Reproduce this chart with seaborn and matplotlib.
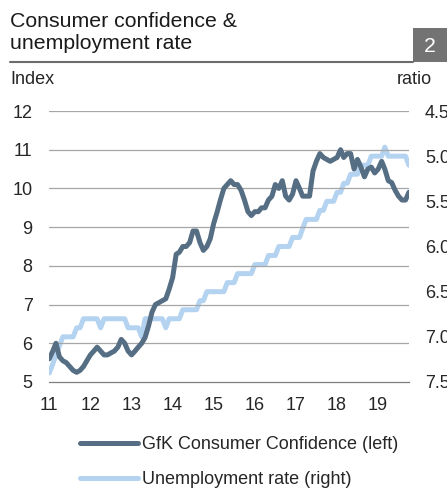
import numpy as np
import pandas as pd
import seaborn as sns
import matplotlib.pyplot as plt
from matplotlib.lines import Line2D
from matplotlib.patches import Rectangle
from matplotlib.ticker import FixedLocator, FuncFormatter
import matplotlib.dates as mdates

# monthly data, Jan 2011 - Oct 2019
gfk = [5.6, 5.8, 6.0, 5.65, 5.55, 5.5, 5.4, 5.3, 5.25, 5.3, 5.4, 5.55,
       5.7, 5.8, 5.9, 5.8, 5.7, 5.7, 5.75, 5.8, 5.9, 6.1, 6.0, 5.8,
       5.7, 5.8, 5.9, 6.0, 6.15, 6.45, 6.8, 7.0, 7.05, 7.1, 7.15, 7.4,
       7.7, 8.3, 8.35, 8.5, 8.5, 8.6, 8.9, 8.9, 8.6, 8.4, 8.5, 8.7,
       9.1, 9.4, 9.7, 10.0, 10.1, 10.2, 10.1, 10.1, 9.95, 9.7, 9.4, 9.3,
       9.4, 9.4, 9.5, 9.5, 9.7, 9.8, 10.1, 10.0, 10.2, 9.8, 9.7, 9.85,
       10.2, 10.0, 9.8, 9.8, 9.8, 10.45, 10.7, 10.9, 10.8, 10.75, 10.7, 10.75,
       10.8, 11.0, 10.8, 10.9, 10.9, 10.5, 10.75, 10.55, 10.3, 10.5, 10.55, 10.4,
       10.5, 10.7, 10.5, 10.2, 10.15, 9.95, 9.8, 9.7, 9.7, 9.9]
unemp = [7.4, 7.3, 7.2, 7.1, 7.0, 7.0, 7.0, 7.0, 6.9, 6.9, 6.8, 6.8,
         6.8, 6.8, 6.8, 6.9, 6.8, 6.8, 6.8, 6.8, 6.8, 6.8, 6.8, 6.9,
         6.9, 6.9, 6.9, 7.0, 6.8, 6.8, 6.8, 6.8, 6.8, 6.8, 6.9, 6.8,
         6.8, 6.8, 6.8, 6.7, 6.7, 6.7, 6.7, 6.7, 6.6, 6.6, 6.5, 6.5,
         6.5, 6.5, 6.5, 6.5, 6.4, 6.4, 6.4, 6.3, 6.3, 6.3, 6.3, 6.3,
         6.2, 6.2, 6.2, 6.2, 6.1, 6.1, 6.1, 6.0, 6.0, 6.0, 6.0, 5.9,
         5.9, 5.9, 5.8, 5.7, 5.7, 5.7, 5.7, 5.6, 5.6, 5.5, 5.5, 5.5,
         5.4, 5.4, 5.3, 5.3, 5.2, 5.2, 5.2, 5.1, 5.1, 5.1, 5.0, 5.0,
         5.0, 5.0, 4.9, 5.0, 5.0, 5.0, 5.0, 5.0, 5.0, 5.1]
dates = pd.date_range("2011-01-01", periods=len(gfk), freq="MS")
df = pd.DataFrame({"date": dates, "gfk": gfk, "unemp": unemp})

left_ticks = [5, 6, 7, 8, 9, 10, 11, 12]
right_ticks = [4.5, 5.0, 5.5, 6.0, 6.5, 7.0, 7.5]
year_ticks = pd.date_range("2011-01-01", "2019-01-01", freq="YS")

dark = "#566e84"
light = "#b4d3f1"

sns.set_style("white")
plt.rcParams["font.family"] = ["Liberation Sans", "DejaVu Sans"]

W, H = 447, 488
fig = plt.figure(figsize=(W / 100, H / 100), dpi=100)
ax = fig.add_axes([49.3 / W, (H - 382) / H, 359.6 / W, 271 / H])
ax2 = ax.twinx()

sns.lineplot(data=df, x="date", y="gfk", ax=ax, color=dark, linewidth=3.6,
             label="GfK Consumer Confidence (left)", legend=False)
sns.lineplot(data=df, x="date", y="unemp", ax=ax2, color=light, linewidth=3.6,
             label="Unemployment rate (right)", legend=False)
ax.set_zorder(ax2.get_zorder() + 1)
ax.patch.set_visible(False)

ax.set_xlim(pd.Timestamp("2011-01-01"), pd.Timestamp("2019-10-01"))
ax.set_ylim(5, 12)
ax2.set_ylim(7.5, 4.5)
ax.yaxis.set_major_locator(FixedLocator(left_ticks))
ax2.yaxis.set_major_locator(FixedLocator(right_ticks))
ax2.yaxis.set_major_formatter(FuncFormatter(lambda v, p: f"{v:.1f}"))
ax.xaxis.set_major_locator(FixedLocator(mdates.date2num(year_ticks)))
ax.xaxis.set_major_formatter(mdates.DateFormatter("%y"))

ax.grid(False)
ax2.grid(False)
for v in left_ticks[1:]:
    ax.axhline(v, color="#a6a6a6", linewidth=0.9, zorder=0)

ax.set_xlabel("")
ax.set_ylabel("")
ax2.set_ylabel("")
for a in (ax, ax2):
    for s in a.spines.values():
        s.set_visible(False)
ax.spines["bottom"].set_visible(True)
ax.spines["bottom"].set_color("#7f7f7f")
ax.spines["bottom"].set_linewidth(0.9)

ax.tick_params(axis="y", length=0, pad=12, labelsize=13)
ax2.tick_params(axis="y", length=0, pad=11.5, labelsize=13)
ax.tick_params(axis="x", length=0, pad=11, labelsize=13)

# header
fig.text(10 / W, 1 - 27 / H, "Consumer confidence &", fontsize=15.3,
         va="baseline", ha="left", color="#1a1a1a")
fig.text(10 / W, 1 - 49 / H, "unemployment rate", fontsize=15.3,
         va="baseline", ha="left", color="#1a1a1a")
fig.add_artist(Line2D([10 / W, 413 / W], [1 - 61.5 / H, 1 - 61.5 / H],
                      color="#6d6d6d", linewidth=1.5))
fig.add_artist(Rectangle((413 / W, 1 - 62 / H), 40 / W, 34 / H,
                         color="#737373", linewidth=0))
fig.text(430 / W, 1 - 52 / H, "2", fontsize=15.3, color="white",
         ha="center", va="baseline")
fig.text(10 / W, 1 - 84 / H, "Index", fontsize=13, va="baseline", ha="left")
fig.text(432 / W, 1 - 84 / H, "ratio", fontsize=13, va="baseline", ha="right")

handles = ax.get_lines()[:1] + ax2.get_lines()[:1]
fig.legend(handles, [h.get_label() for h in handles], loc="upper left",
           bbox_to_anchor=(64 / W, 1 - 420 / H), frameon=False, fontsize=13,
           handlelength=3.2, handletextpad=0.2, labelspacing=1.0)

fig.savefig("out.png", dpi=100)
